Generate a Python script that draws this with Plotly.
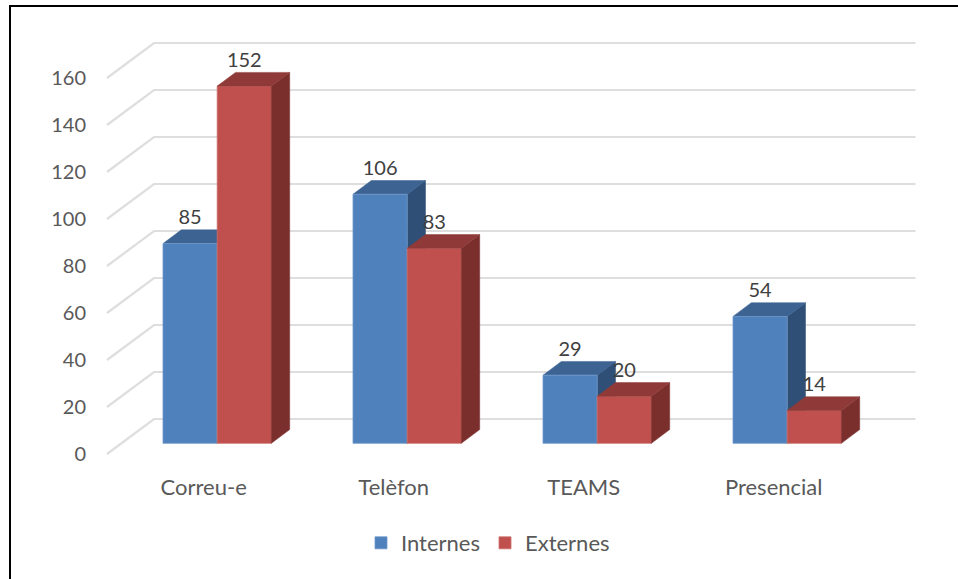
import plotly.graph_objects as go

# ---- data ----
categories = ["Correu-e", "Telèfon", "TEAMS", "Presencial"]
internes = [85, 106, 29, 54]
externes = [152, 83, 20, 14]
series_names = ["Internes", "Externes"]
value_ticks = [0, 20, 40, 60, 80, 100, 120, 140, 160]

# ---- layout constants (pixels on the 958x579 canvas) ----
W, H = 958, 579
PLOT_BOTTOM = 466          # bottom edge of the plot area in pixels
PX_PER_CAT = 190.0
FIRST_CENTER = 217.2
BAR_W = 54.2 / PX_PER_CAT
PX_PER_VAL = 2.35
BAR_BASE = 443.3
WALL_BASE = 454.0
DEPTH_X = 18.3 / PX_PER_CAT
DEPTH_Y = 13.7 / PX_PER_VAL
WALL_DX = 47.0 / PX_PER_CAT
WALL_DY = 35.0 / PX_PER_VAL
WALL_LEFT = (107 - FIRST_CENTER) / PX_PER_CAT
WALL_RIGHT = (915.5 - FIRST_CENTER) / PX_PER_CAT
LABEL_SHIFT = 24.2 / PX_PER_VAL
CAT_SHIFT = -13.5 / PX_PER_CAT

FONT = "Lato"
NUM_SIZE = 20
TXT_SIZE = 22
BLUE, BLUE_TOP, BLUE_SIDE = "#4F81BD", "#3C6392", "#2F4F77"
RED, RED_TOP, RED_SIDE = "#C0504D", "#8F3A38", "#7A2F2D"
GRID = "#DEDEDE"

x_range = [-FIRST_CENTER / PX_PER_CAT, (W - FIRST_CENTER) / PX_PER_CAT]
def y_range(base):
    return [(base - PLOT_BOTTOM) / PX_PER_VAL, base / PX_PER_VAL]

fig = go.Figure()

# gridlines: front-left slant, then the back wall
for t in value_ticks:
    fig.add_trace(go.Scatter(
        x=[WALL_LEFT, WALL_LEFT + WALL_DX, WALL_RIGHT],
        y=[t, t + WALL_DY, t + WALL_DY],
        mode="lines", line=dict(color=GRID, width=2.2),
        hoverinfo="skip", showlegend=False, xaxis="x", yaxis="y"))

def faces(i, value, sign, top, side, xa, ya):
    x0 = i if sign > 0 else i - BAR_W
    x1 = x0 + BAR_W
    fig.add_trace(go.Scatter(
        x=[x1, x1 + DEPTH_X, x1 + DEPTH_X, x1, x1],
        y=[0, DEPTH_Y, value + DEPTH_Y, value, 0],
        mode="lines", fill="toself", fillcolor=side, line=dict(color=side, width=0.5),
        hoverinfo="skip", showlegend=False, xaxis=xa, yaxis=ya))
    fig.add_trace(go.Scatter(
        x=[x0, x1, x1 + DEPTH_X, x0 + DEPTH_X, x0],
        y=[value, value, value + DEPTH_Y, value + DEPTH_Y, value],
        mode="lines", fill="toself", fillcolor=top, line=dict(color=top, width=0.5),
        hoverinfo="skip", showlegend=False, xaxis=xa, yaxis=ya))

# blue depth faces sit behind all the front faces
for i, v in enumerate(internes):
    faces(i, v, -1, BLUE_TOP, BLUE_SIDE, "x2", "y2")

# front faces
fig.add_trace(go.Bar(x=list(range(len(categories))), y=internes, name=series_names[0],
                     marker=dict(color=BLUE, line=dict(color="#6F97C9", width=0.8)),
                     xaxis="x3", yaxis="y3"))
fig.add_trace(go.Bar(x=list(range(len(categories))), y=externes, name=series_names[1],
                     marker=dict(color=RED, line=dict(color="#CC6F6C", width=0.8)),
                     xaxis="x3", yaxis="y3"))

# red depth faces sit on top of the blue ones
for i, v in enumerate(externes):
    faces(i, v, 1, RED_TOP, RED_SIDE, "x3", "y3")

# data labels
for off, vals in ((-BAR_W / 2, internes), (BAR_W / 2, externes)):
    fig.add_trace(go.Scatter(
        x=[i + off for i in range(len(vals))],
        y=[v + LABEL_SHIFT for v in vals],
        mode="text", text=[str(v) for v in vals], textposition="middle center",
        textfont=dict(family=FONT, size=NUM_SIZE, color="#404040"),
        hoverinfo="skip", showlegend=False, xaxis="x3", yaxis="y3"))

hidden = dict(visible=False, fixedrange=True)
fig.update_layout(
    width=W, height=H,
    margin=dict(l=0, r=0, t=0, b=H - PLOT_BOTTOM, pad=0),
    paper_bgcolor="white", plot_bgcolor="rgba(0,0,0,0)",
    font=dict(family=FONT, size=TXT_SIZE, color="#595959"),
    barmode="group", bargap=1 - 2 * BAR_W, bargroupgap=0,
    xaxis=dict(range=x_range, showgrid=False, zeroline=False, showline=False,
               tickmode="array",
               tickvals=[i + CAT_SHIFT for i in range(len(categories))],
               ticktext=categories, ticks="outside", ticklen=2,
               tickcolor="rgba(0,0,0,0)", fixedrange=True,
               tickfont=dict(family=FONT, size=TXT_SIZE, color="#595959")),
    yaxis=dict(range=y_range(WALL_BASE), anchor="free", position=86 / W,
               showgrid=False, zeroline=False, showline=False,
               tickmode="array", tickvals=value_ticks, ticks="", fixedrange=True,
               tickfont=dict(family=FONT, size=NUM_SIZE, color="#595959")),
    xaxis2=dict(range=x_range, overlaying="x", **hidden),
    yaxis2=dict(range=y_range(BAR_BASE), overlaying="y", **hidden),
    xaxis3=dict(range=x_range, overlaying="x", **hidden),
    yaxis3=dict(range=y_range(BAR_BASE), overlaying="y", **hidden),
    legend=dict(orientation="h", xref="paper", yref="paper", x=0.5 + 9 / W, xanchor="center",
                y=(PLOT_BOTTOM - 543) / PLOT_BOTTOM, yanchor="middle",
                font=dict(family=FONT, size=TXT_SIZE, color="#595959"),
                bgcolor="rgba(0,0,0,0)", itemwidth=30, traceorder="normal"),
    shapes=[dict(type="path", xref="paper", yref="paper", layer="above",
                 path=f"M {10 / W},{(PLOT_BOTTOM - H - 5) / PLOT_BOTTOM} "
                      f"L {10 / W},{(PLOT_BOTTOM - 6) / PLOT_BOTTOM} "
                      f"L {(W + 5) / W},{(PLOT_BOTTOM - 6) / PLOT_BOTTOM}",
                 line=dict(color="black", width=2))],
)

fig.write_html("out.html", config=dict(displayModeBar=False),
               post_script="document.body.style.margin='0';")
